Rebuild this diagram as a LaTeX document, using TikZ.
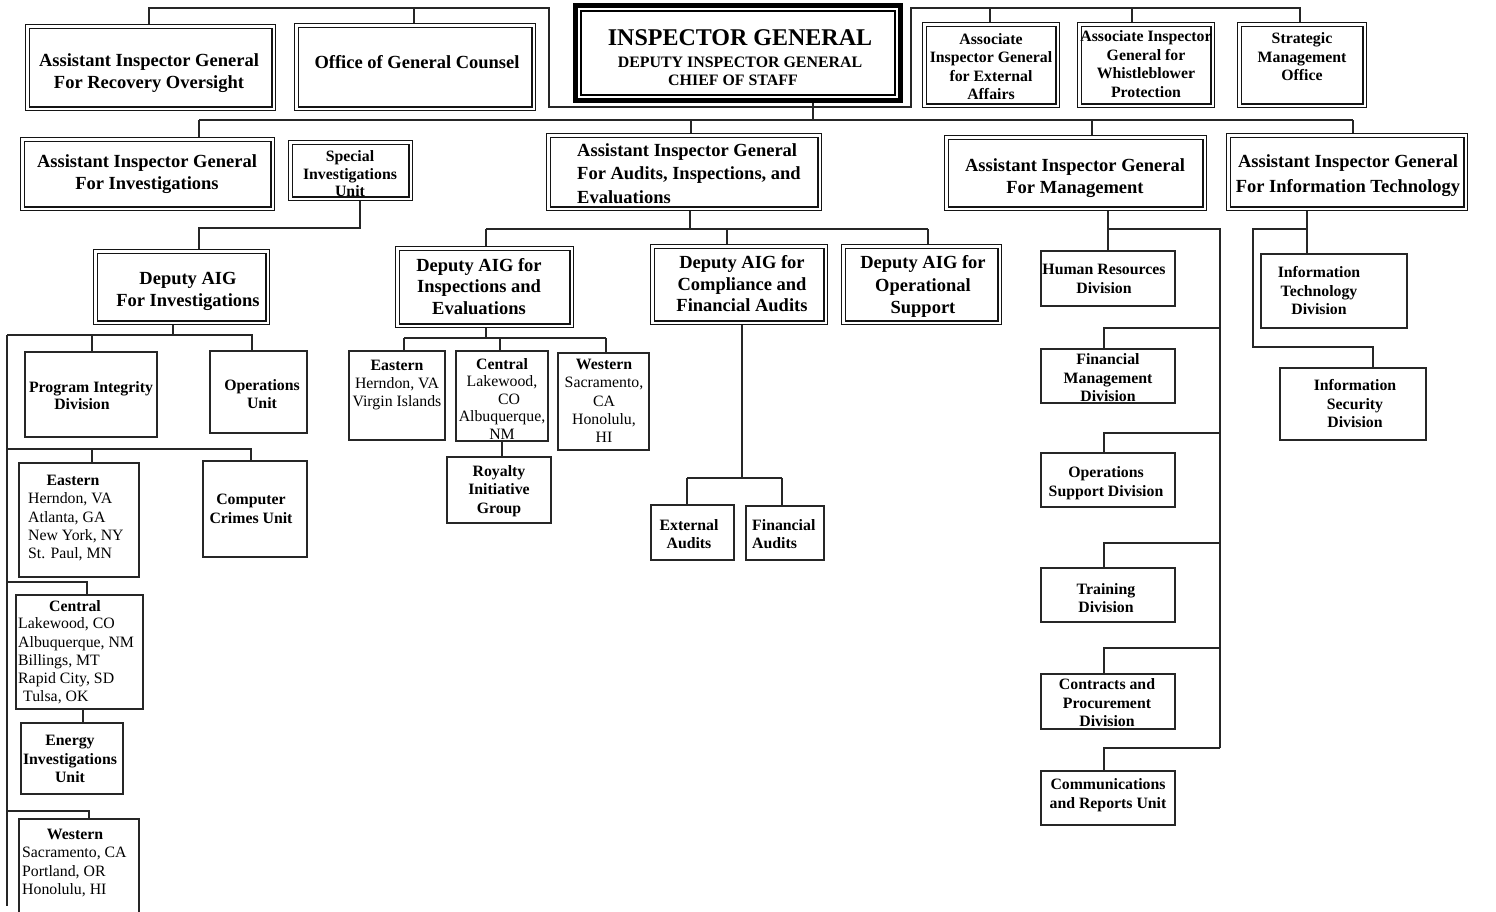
\documentclass[tikz,border=0pt]{standalone}
\usepackage{fontspec}
\setmainfont{Liberation Serif}
\pgfdeclarelayer{bg}
\pgfsetlayers{bg,main}
\newcommand\mybox[5]{\node[pbox,minimum width={(#4)-(#2)},minimum height={(#5)-(#3)}] (#1) at ({((#2)+(#4))/2},{((#3)+(#5))/2}) {};}
\newcommand\mydbox[5]{\node[dbl,minimum width={(#4)-(#2)-4.8},minimum height={(#5)-(#3)-4.8}] (#1) at ({((#2)+(#4))/2},{((#3)+(#5))/2}) {};}
\begin{document}
\begin{tikzpicture}[x=1pt,y=-1pt,
  ln/.style={line width=1.3pt, draw=black!85},
  dbl/.style={draw=black!92, line width=1.3pt, double=white, double distance=2.2pt, inner sep=0pt, outer sep=0pt},
  pbox/.style={draw=black!85, line width=1.3pt, inner sep=0pt, outer sep=0pt},
  ttl/.style={font=\fontsize{18.5}{22}\selectfont\bfseries, align=center, inner sep=0pt},
  sml/.style={font=\fontsize{15.8}{18.5}\selectfont\bfseries, align=center, inner sep=0pt},
  lst/.style={font=\fontsize{15.8}{18.3}\selectfont, align=center, inner sep=0pt},
  loc/.style={font=\fontsize{15.8}{18.2}\selectfont, align=left, inner sep=0pt, anchor=west},
]
\useasboundingbox (0,0) rectangle (1496,911);
\clip (0,0) rectangle (1496,911);

% ---------- boxes ----------
% top row
\mydbox{rec}{25}{24}{276}{111}
\mydbox{ogc}{294}{23}{536}{111}
\node[draw=black, line width=5pt, inner sep=0pt, outer sep=0pt, minimum width=325, minimum height=95] (ig) at (738,53) {};
\draw[line width=1.8pt, draw=black] ([shift={(5.5,5.5)}]ig.north west) rectangle ([shift={(-5.5,-5.5)}]ig.south east);
\mydbox{ea}{922}{22}{1060}{108}
\mydbox{wb}{1077}{22}{1215}{108}
\mydbox{sm}{1237}{22}{1367}{108}
% second row
\mydbox{aiginv}{20}{137}{275}{211}
\mydbox{siu}{288}{140}{413}{201}
\mydbox{aigaud}{546}{133}{822}{211}
\mydbox{aigm}{944}{135}{1207}{211}
\mydbox{aigit}{1226}{133}{1468}{211}
% deputies
\mydbox{dinv}{93}{249}{270}{325}
\mydbox{dins}{395}{246}{574}{328}
\mydbox{dcomp}{650}{244}{828}{325}
\mydbox{dops}{841}{244}{1002}{325}
% investigations subtree
\mybox{pid}{25}{352}{157}{437}
\mybox{ops}{210}{351}{307}{433}
\mybox{east}{19}{463}{139}{577}
\mybox{ccu}{203}{461}{307}{557}
\mybox{cent}{16}{595}{143}{709}
\mybox{energy}{21}{723}{123}{794}
\mybox{west}{19}{819}{139}{940}
% audits subtree
\mybox{east2}{349}{351}{445}{440}
\mybox{cent2}{456}{351}{548}{441}
\mybox{west2}{558}{353}{649}{450}
\mybox{roy}{447}{457}{551}{523}
\mybox{extaud}{651}{505}{734}{560}
\mybox{finaud}{746}{506}{824}{560}
% management subtree
\mybox{hr}{1041}{251}{1175}{306}
\mybox{fmd}{1041}{349}{1175}{403}
\mybox{osd}{1041}{453}{1175}{507}
\mybox{trn}{1041}{568}{1175}{622}
\mybox{cpd}{1041}{674}{1175}{729}
\mybox{cru}{1041}{771}{1175}{825}
% IT subtree
\mybox{itd}{1261}{254}{1407}{328}
\mybox{isd}{1280}{368}{1426}{440}

% ---------- texts ----------
\node[ttl] (t-rec) at (149,73) {Assistant Inspector General\\For Recovery Oversight};
\node[ttl] (t-ogc) at (417,62) {Office of General Counsel};
\node[font=\fontsize{24}{26}\selectfont\bfseries, inner sep=0pt] (t-ig1) at (740,38) {INSPECTOR GENERAL};
\node[font=\fontsize{15.9}{18}\selectfont\bfseries, inner sep=0pt] (t-ig2) at (740,62) {DEPUTY INSPECTOR GENERAL};
\node[font=\fontsize{15.9}{18}\selectfont\bfseries, inner sep=0pt] (t-ig3) at (733,80) {CHIEF OF STAFF};
\node[sml] (t-ea) at (991,66.5) {Associate\\Inspector General\\for External\\Affairs};
\node[sml] (t-wb) at (1146,64) {Associate Inspector\\General for\\Whistleblower\\Protection};
\node[sml] (t-sm) at (1302,57) {Strategic\\Management\\Office};
\node[ttl] (t-aiginv) at (147,174.5) {Assistant Inspector General\\For Investigations};
\node[sml, font=\fontsize{15.8}{17.5}\selectfont\bfseries] (t-siu) at (350,174) {Special\\Investigations\\Unit};
\node[ttl, align=left, anchor=west, font=\fontsize{18.5}{23.5}\selectfont\bfseries] (t-aigaud) at (577,173.5) {Assistant Inspector General\\For Audits, Inspections, and\\Evaluations};
\node[ttl] (t-aigm) at (1075,178) {Assistant Inspector General\\For Management};
\node[ttl, font=\fontsize{18.5}{25.5}\selectfont\bfseries] (t-aigit) at (1348,175.5) {Assistant Inspector General\\For Information Technology};
\node[ttl] (t-dinv) at (188,291) {Deputy AIG\\For Investigations};
\node[ttl, font=\fontsize{18.5}{21.5}\selectfont\bfseries] (t-dins) at (479,286.5) {Deputy AIG for\\Inspections and\\Evaluations};
\node[ttl, font=\fontsize{18.5}{21.5}\selectfont\bfseries] (t-dcomp) at (742,284) {Deputy AIG for\\Compliance and\\Financial Audits};
\node[ttl, font=\fontsize{18.5}{22.5}\selectfont\bfseries] (t-dops) at (923,286.5) {Deputy AIG for\\Operational\\Support};
% investigations subtree texts
\node[sml, font=\fontsize{15.8}{16.5}\selectfont\bfseries] (t-pid) at (91,395.5) {Program Integrity\\\hspace*{-18pt}Division};
\node[sml] (t-ops) at (262,394) {Operations\\Unit};
\node[sml] (t-east-h) at (73,480) {Eastern};
\node[loc] (t-east-l) at (28,527) {Herndon, VA\\Atlanta, GA\\New York, NY\\St. Paul, MN};
\node[sml] (t-ccu) at (251,509) {Computer\\Crimes Unit};
\node[sml] (t-cent-h) at (75,606) {Central};
\node[loc] (t-cent-l) at (18,661) {Lakewood, CO\\Albuquerque, NM\\Billings, MT\\Rapid City, SD\\\hspace*{5pt}Tulsa, OK};
\node[sml] (t-energy) at (70,759) {Energy\\Investigations\\Unit};
\node[sml] (t-west-h) at (75,834) {Western};
\node[loc] (t-west-l) at (22,872) {Sacramento, CA\\Portland, OR\\Honolulu, HI};
% audits subtree texts
\node[lst] (t-east2) at (397,385) {\textbf{Eastern}\\Herndon, VA\\Virgin Islands};
\node[lst, font=\fontsize{15.8}{17.5}\selectfont] (t-cent2) at (502,399) {\textbf{Central}\\Lakewood,\\\hspace*{14pt}CO\\Albuquerque,\\NM};
\node[lst] (t-west2) at (604,401) {\textbf{Western}\\Sacramento,\\CA\\Honolulu,\\HI};
\node[sml] (t-roy) at (499,491) {Royalty\\Initiative\\Group};
\node[sml] (t-extaud) at (689,534) {External\\Audits};
\node[sml, align=left, anchor=west] (t-finaud) at (752,534) {Financial\\Audits};
% management texts
\node[sml] (t-hr) at (1104,279) {Human Resources\\Division};
\node[sml] (t-fmd) at (1108,378) {Financial\\Management\\Division};
\node[sml] (t-osd) at (1106,483) {Operations\\Support Division};
\node[sml] (t-trn) at (1106,598) {Training\\Division};
\node[sml] (t-cpd) at (1107,703) {Contracts and\\Procurement\\Division};
\node[sml] (t-cru) at (1108,795) {Communications\\and Reports Unit};
% IT texts
\node[sml] (t-itd) at (1319,291) {Information\\Technology\\Division};
\node[sml] (t-isd) at (1355,404) {Information\\Security\\Division};

% ---------- connector joints ----------
\coordinate (t1) at (149,8);
\coordinate (t2) at (414,8);
\coordinate (t3) at (549,8);
\coordinate (f1) at (549,107);
\coordinate (f2) at (911,107);
\coordinate (t4) at (911,8);
\coordinate (t5) at (990,8);
\coordinate (t6) at (1132,8);
\coordinate (t7) at (1300,8);
\coordinate (b0) at (813,120);
\coordinate (b1) at (199,120);
\coordinate (b2) at (691,120);
\coordinate (b3) at (1092,120);
\coordinate (b4) at (1353,120);
\coordinate (s1) at (360,228);
\coordinate (s2) at (199,228);
\coordinate (d0) at (7,335);
\coordinate (d1) at (173,335);
\coordinate (d2) at (252,335);
\coordinate (d3) at (92,335);
\coordinate (sp) at (7,906);
\coordinate (e0) at (7,449);
\coordinate (e1) at (92,449);
\coordinate (e2) at (251,449);
\coordinate (c0) at (7,582);
\coordinate (c1) at (87,582);
\coordinate (c2) at (83,716);
\coordinate (w0) at (7,811);
\coordinate (w1) at (89,811);
\coordinate (a0) at (690,229);
\coordinate (a1) at (486,229);
\coordinate (a2) at (727,229);
\coordinate (a3) at (928,229);
\coordinate (i0) at (486,338);
\coordinate (i1) at (404,338);
\coordinate (i2) at (500,338);
\coordinate (i3) at (606,338);
\coordinate (r0) at (502,449);
\coordinate (x0) at (742,478);
\coordinate (x1) at (687,478);
\coordinate (x2) at (782,478);
\coordinate (m0) at (1108,229);
\coordinate (m1) at (1220,229);
\coordinate (m2) at (1220,748);
\coordinate (mf) at (1104,328);
\coordinate (mo) at (1104,433);
\coordinate (mt) at (1104,543);
\coordinate (mc) at (1104,648);
\coordinate (mr) at (1104,748);
\coordinate (it0) at (1307,229);
\coordinate (it1) at (1253,229);
\coordinate (it2) at (1253,347);
\coordinate (it3) at (1373,347);

% ---------- connectors ----------
\begin{pgfonlayer}{bg}
\draw[ln] (rec.north -| t1) -- (t1) -- (t3) -- (f1) -- (f2) -- (t4) -- (t7) -- (sm.north -| t7);
\draw[ln] (t2) -- (ogc.north -| t2);
\draw[ln] (t5) -- (ea.north -| t5);
\draw[ln] (t6) -- (wb.north -| t6);
\draw[ln] (ig.south -| b0) -- (b0);
\draw[ln] (b1) -- (b4);
\draw[ln] (b1) -- (aiginv.north -| b1);
\draw[ln] (b2) -- (aigaud.north -| b2);
\draw[ln] (b3) -- (aigm.north -| b3);
\draw[ln] (b4) -- (aigit.north -| b4);
% special investigations unit to deputy
\draw[ln] (siu.south -| s1) -- (s1) -- (s2) -- (dinv.north -| s2);
% deputy AIG investigations
\draw[ln] (dinv.south -| d1) -- (d1);
\draw[ln] (d0) -- (d2) -- (ops.north -| d2);
\draw[ln] (d3) -- (pid.north -| d3);
\draw[ln] (d0) -- (sp);
\draw[ln] (e0) -- (e2) -- (ccu.north -| e2);
\draw[ln] (e1) -- (east.north -| e1);
\draw[ln] (c0) -- (c1) -- (cent.north -| c1);
\draw[ln] (cent.south -| c2) -- (energy.north -| c2);
\draw[ln] (w0) -- (w1) -- (west.north -| w1);
% audits
\draw[ln] (aigaud.south -| a0) -- (a0);
\draw[ln] (a1) -- (a3);
\draw[ln] (a1) -- (dins.north -| a1);
\draw[ln] (a2) -- (dcomp.north -| a2);
\draw[ln] (a3) -- (dops.north -| a3);
\draw[ln] (dins.south -| i0) -- (i0);
\draw[ln] (i1) -- (i3);
\draw[ln] (i1) -- (east2.north -| i1);
\draw[ln] (i2) -- (cent2.north -| i2);
\draw[ln] (i3) -- (west2.north -| i3);
\draw[ln] (cent2.south -| r0) -- (roy.north -| r0);
\draw[ln] (dcomp.south -| x0) -- (x0);
\draw[ln] (x1) -- (x2);
\draw[ln] (x1) -- (extaud.north -| x1);
\draw[ln] (x2) -- (finaud.north -| x2);
% management
\draw[ln] (aigm.south -| m0) -- (hr.north -| m0);
\draw[ln] (m0) -- (m1) -- (m2);
\draw[ln] (mf -| m1) -- (mf) -- (fmd.north -| mf);
\draw[ln] (mo -| m1) -- (mo) -- (osd.north -| mo);
\draw[ln] (mt -| m1) -- (mt) -- (trn.north -| mt);
\draw[ln] (mc -| m1) -- (mc) -- (cpd.north -| mc);
\draw[ln] (mr -| m1) -- (mr) -- (cru.north -| mr);
% information technology
\draw[ln] (aigit.south -| it0) -- (itd.north -| it0);
\draw[ln] (it0) -- (it1) -- (it2) -- (it3) -- (isd.north -| it3);
\end{pgfonlayer}
\end{tikzpicture}
\end{document}
